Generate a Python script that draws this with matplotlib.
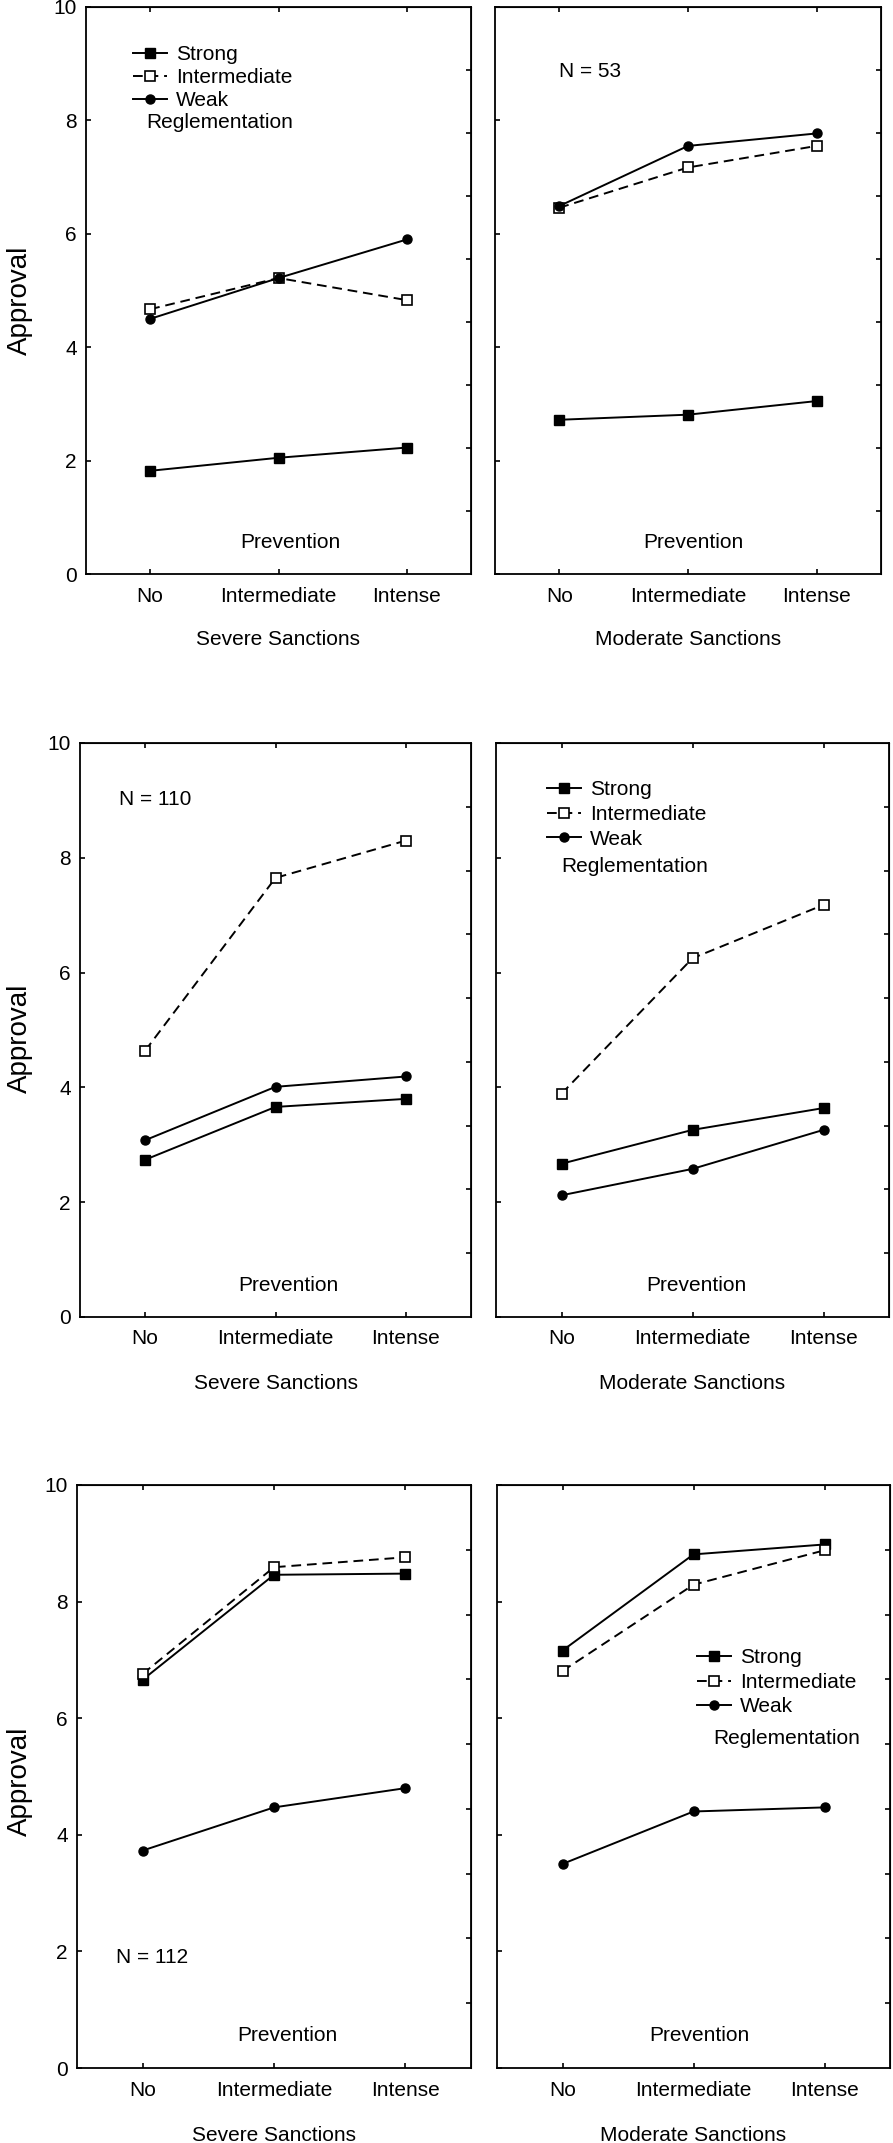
import numpy as np
import matplotlib
matplotlib.use("Agg")
import matplotlib.pyplot as plt
from matplotlib.lines import Line2D

plt.rcParams['font.family'] = ['Liberation Sans', 'DejaVu Sans']

prevention = ["No", "Intermediate", "Intense"]
series_names = ["Strong", "Intermediate", "Weak"]
sanctions = ["Severe Sanctions", "Moderate Sanctions"]

# Row 1 (N = 53)
strong_r1_severe = [1.82, 2.05, 2.23]
inter_r1_severe = [4.67, 5.22, 4.83]
weak_r1_severe = [4.50, 5.22, 5.90]
strong_r1_moderate = [2.72, 2.81, 3.05]
inter_r1_moderate = [6.46, 7.17, 7.55]
weak_r1_moderate = [6.49, 7.55, 7.77]

# Row 2 (N = 110)
strong_r2_severe = [2.74, 3.66, 3.80]
inter_r2_severe = [4.64, 7.65, 8.30]
weak_r2_severe = [3.08, 4.01, 4.19]
strong_r2_moderate = [2.67, 3.26, 3.64]
inter_r2_moderate = [3.89, 6.25, 7.18]
weak_r2_moderate = [2.12, 2.58, 3.26]

# Row 3 (N = 112)
strong_r3_severe = [6.66, 8.46, 8.48]
inter_r3_severe = [6.76, 8.59, 8.76]
weak_r3_severe = [3.73, 4.47, 4.80]
strong_r3_moderate = [7.16, 8.81, 8.98]
inter_r3_moderate = [6.81, 8.29, 8.88]
weak_r3_moderate = [3.50, 4.40, 4.47]

n_labels = ["N = 53", "N = 110", "N = 112"]

W, H = 893, 2143
fig = plt.figure(figsize=(W / 100, H / 100), dpi=100)

def frac(x0, x1, ytop, ybot):
    return [x0 / W, 1 - ybot / H, (x1 - x0) / W, (ybot - ytop) / H]

boxes = [
    [frac(86, 471, 7, 574), frac(495, 881, 7, 574)],
    [frac(80, 471, 743, 1317), frac(496, 889, 743, 1317)],
    [frac(77, 471, 1485, 2068), frac(497, 890, 1485, 2068)],
]

data = [
    [(strong_r1_severe, inter_r1_severe, weak_r1_severe),
     (strong_r1_moderate, inter_r1_moderate, weak_r1_moderate)],
    [(strong_r2_severe, inter_r2_severe, weak_r2_severe),
     (strong_r2_moderate, inter_r2_moderate, weak_r2_moderate)],
    [(strong_r3_severe, inter_r3_severe, weak_r3_severe),
     (strong_r3_moderate, inter_r3_moderate, weak_r3_moderate)],
]

styles = [
    dict(color='black', linestyle='-', marker='s', markersize=7,
         markerfacecolor='black', markeredgecolor='black', linewidth=1.4),
    dict(color='black', linestyle=(0, (5, 3)), marker='s', markersize=7,
         markerfacecolor='white', markeredgecolor='black', markeredgewidth=1.2,
         linewidth=1.4),
    dict(color='black', linestyle='-', marker='o', markersize=6.5,
         markerfacecolor='black', markeredgecolor='black', linewidth=1.4),
]

FS = 15
x = np.arange(len(prevention))

n_pos = {(0, 1): (0.166, 0.887), (1, 0): (0.100, 0.902), (2, 0): (0.099, 0.189)}
# (x, y anchor, reglementation x, reglementation y, labelspacing)
legend_pos = {(0, 0): (0.122, 0.933, 0.156, 0.797, 0.2),
              (1, 1): (0.130, 0.935, 0.165, 0.784, 0.27),
              (2, 1): (0.509, 0.720, 0.551, 0.566, 0.27)}
prev_pos = {(0, 0): 0.53, (0, 1): 0.514, (1, 0): 0.533, (1, 1): 0.51,
            (2, 0): 0.533, (2, 1): 0.514}
approval_y = [300, 1038, 1781]

for r in range(3):
    for c in range(2):
        ax = fig.add_axes(boxes[r][c])
        for vals, st, name in zip(data[r][c], styles, series_names):
            ax.plot(x, vals, label=name, clip_on=False, zorder=3, **st)
        ax.set_xlim(-0.5, 2.5)
        ax.set_ylim(0, 10)
        for sp in ax.spines.values():
            sp.set_linewidth(1.3)
        ax.set_xticks(x)
        ax.set_xticklabels(prevention, fontsize=FS)
        ax.tick_params(axis='x', direction='in', length=3.5, width=1.2, pad=9)
        ax.set_yticks([0, 2, 4, 6, 8, 10])
        if c == 0:
            ax.set_yticklabels(["0", "2", "4", "6", "8", "10"], fontsize=FS)
            ax.tick_params(axis='y', direction='in', length=3.5, width=1.2, pad=6.5)
        else:
            ax.set_yticklabels([])
            ax.tick_params(axis='y', direction='in', length=3.5, width=1.2)
        top = ax.secondary_xaxis('top')
        top.set_xticks(x)
        top.set_xticklabels([])
        top.tick_params(direction='in', length=3.5, width=1.2)
        right = ax.secondary_yaxis('right')
        right.set_yticks(np.arange(1, 9) * 10 / 9)
        right.set_yticklabels([])
        right.tick_params(direction='in', length=3.5, width=1.2)

        ax.text(prev_pos[(r, c)], 0.055, "Prevention", transform=ax.transAxes,
                ha='center', va='center', fontsize=FS)
        ax.text(0.5, -0.116, sanctions[c], transform=ax.transAxes,
                ha='center', va='center', fontsize=FS)
        if (r, c) in n_pos:
            px, py = n_pos[(r, c)]
            ax.text(px, py, n_labels[r], transform=ax.transAxes,
                    ha='left', va='center', fontsize=FS)
        if (r, c) in legend_pos:
            lx, ly, rx, ry, ls = legend_pos[(r, c)]
            handles = [Line2D([], [], **st) for st in styles]
            ax.legend(handles, series_names, loc='upper left',
                      bbox_to_anchor=(lx, ly), frameon=False,
                      borderpad=0, borderaxespad=0, handlelength=1.65,
                      handletextpad=0.4, labelspacing=ls, fontsize=FS)
            ax.text(rx, ry, "Reglementation", transform=ax.transAxes,
                    ha='left', va='center', fontsize=FS)
    fig.text(20 / W, 1 - approval_y[r] / H, "Approval", rotation=90,
             ha='center', va='center', fontsize=20)

fig.savefig("out.png", dpi=100)
